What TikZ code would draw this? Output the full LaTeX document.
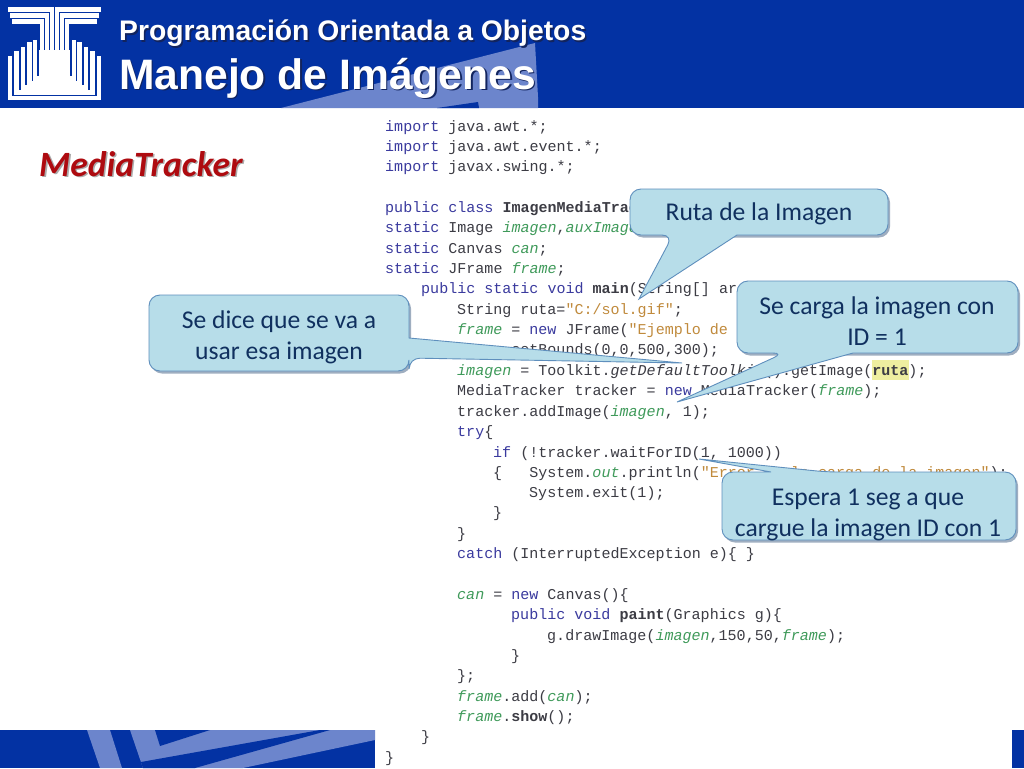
\documentclass[tikz,border=0pt]{standalone}
\usepackage{fontspec}
\setmainfont{Liberation Sans}
\setmonofont{Liberation Mono}
\newfontfamily\notefont{Carlito}
\usetikzlibrary{positioning}
\definecolor{headblue}{HTML}{0332A3}
\definecolor{stripeblue}{HTML}{6C85CC}
\definecolor{notefill}{HTML}{B7DDE9}
\definecolor{noteline}{HTML}{5F8FBD}
\definecolor{noteshade}{HTML}{7F93AC}
\definecolor{notetext}{HTML}{10305F}
\definecolor{kwblue}{HTML}{3A3A9E}
\definecolor{fieldgreen}{HTML}{3F9A5A}
\definecolor{strbrown}{HTML}{C08A3C}
\definecolor{codegray}{HTML}{3C3C44}
\definecolor{markyellow}{HTML}{EEEEA0}
\definecolor{titlered}{HTML}{AE0B10}
\definecolor{titleshade}{HTML}{12245E}
\definecolor{mediashade}{HTML}{ABABAB}
\newcommand{\kw}[1]{\textcolor{kwblue}{#1}}
\newcommand{\fd}[1]{\textcolor{fieldgreen}{\textit{#1}}}
\newcommand{\st}[1]{\textcolor{strbrown}{#1}}
\newcommand{\bb}[1]{\textbf{#1}}
\newcommand{\shaded}[2]{\rlap{\hspace{1.6pt}\raisebox{-1.6pt}{\textcolor{#1}{#2}}}#2}
\tikzset{
    code/.style={anchor=base west, inner sep=0pt, text=codegray,
        font=\ttfamily\fontsize{15.04}{15}\selectfont},
    note/.style={anchor=center, align=center, inner sep=0pt, text=notetext,
        font=\notefont\fontsize{25.6}{31}\selectfont},
    notebox/.style={fill=notefill, draw=noteline, line width=0.9pt},
    noteback/.style={fill=noteshade, opacity=0.75},
    band/.style={fill=headblue},
    stripe/.style={fill=stripeblue},
    logobar/.style={draw=white, line width=4.2pt, line cap=butt, line join=miter}
}
\begin{document}
\begin{tikzpicture}[x=1pt,y=-1pt]
    \useasboundingbox (0,0) rectangle (1024,768);
    \fill[white] (0,0) rectangle (1024,768);
    % header
    \fill[band] (0,0) rectangle (1024,108);
    \fill[stripe] (281,108) -- (535,43) -- (538,97) -- (538,108) -- cycle;
    \fill[band] (437,108) -- (478,102) -- (479,108) -- cycle;
    % logo
    \fill[white] (39,50) rectangle (70,78);
    \foreach \i/\yy/\xl/\xs in {0/9.5/8/52,1/15.5/10/47,2/21.5/12/42}{
        \draw[logobar] (\xl,\yy) -- (\xs,\yy) -- (\xs,52);
        \draw[logobar] (109-\xl,\yy) -- (109-\xs,\yy) -- (109-\xs,52);
    }
    \foreach \i/\xa/\ya/\yb in {0/10/56/98,1/16.5/51/92.5,2/23/47/87.5,3/29.5/42/83,4/35/40/78.5}{
        \draw[logobar] (\xa,\ya) -- (\xa,\yb) -- (109-\xa,\yb) -- (109-\xa,\ya);
    }
    % titles
    \node[anchor=base west, inner sep=0pt, text=white] (subtitle) at (119,40.5)
        {\fontsize{28.3}{29}\selectfont\bfseries\shaded{titleshade}{Programación Orientada a Objetos}};
    \node[anchor=base west, inner sep=0pt, text=white] (title) at (119,89)
        {\fontsize{42.6}{43}\selectfont\bfseries\shaded{titleshade}{Manejo de Imágenes}};
    \node[anchor=base west, inner sep=0pt, text=titlered] (media) at (39,176)
        {\notefont\fontsize{35.6}{36}\selectfont\bfseries\itshape\shaded{mediashade}{MediaTracker}};
    % bottom band
    \fill[band] (0,730) rectangle (375,768);
    \fill[stripe] (87,730) -- (110,730) -- (122,768) -- (100,768) -- cycle;
    \fill[stripe] (130,730) -- (375,730) -- (375,740) -- (243,768) -- (143,768) -- cycle;
    \fill[band] (155,730) -- (210,730) -- (160,746) -- cycle;
    \fill[band] (141,762) -- (320,730) -- (330,730) -- (195,768) -- (143,768) -- cycle;
    \fill[band] (1012,730) rectangle (1024,768);
    % code
    \fill[markyellow] (872,360) rectangle (909,380);
    \node[code] (l1) at (385,131) {\kw{import} java.awt.*;};
    \node[code] (l2) at (385,151) {\kw{import} java.awt.event.*;};
    \node[code] (l3) at (385,171) {\kw{import} javax.swing.*;};
    \node[code] (l4) at (385,212) {\kw{public class} \bb{ImagenMediaTracker}};
    \node[code] (l5) at (385,232) {\kw{static} Image \fd{imagen},\fd{auxImagen};};
    \node[code] (l6) at (385,253) {\kw{static} Canvas \fd{can};};
    \node[code] (l7) at (385,273) {\kw{static} JFrame \fd{frame};};
    \node[code] (l8) at (421,293) {\kw{public static void} \bb{main}(String[] args)\{};
    \node[code] (l9) at (457,314) {String ruta=\st{"C:/sol.gif"};};
    \node[code] (l10) at (457,334) {\fd{frame} = \kw{new} JFrame(\st{"Ejemplo de "});};
    \node[code] (l11) at (457,354) {\fd{frame}.setBounds(0,0,500,300);};
    \node[code] (l12) at (457,375) {\fd{imagen} = Toolkit.\textit{getDefaultToolkit}().getImage(\bb{ruta});};
    \node[code] (l13) at (457,395) {MediaTracker tracker = \kw{new} MediaTracker(\fd{frame});};
    \node[code] (l14) at (457,416) {tracker.addImage(\fd{imagen}, 1);};
    \node[code] (l15) at (457,436) {\kw{try}\{};
    \node[code] (l16) at (493,457) {\kw{if} (!tracker.waitForID(1, 1000))};
    \node[code] (l17) at (493,477) {\{~~~System.\fd{out}.println(\st{"Error en la carga de la imagen"});};
    \node[code] (l18) at (529,497) {System.exit(1);};
    \node[code] (l19) at (493,517) {\}};
    \node[code] (l20) at (457,538) {\}};
    \node[code] (l21) at (457,558) {\kw{catch} (InterruptedException e)\{ \}};
    \node[code] (l22) at (457,599) {\fd{can} = \kw{new} Canvas()\{};
    \node[code] (l23) at (511,619) {\kw{public void} \bb{paint}(Graphics g)\{};
    \node[code] (l24) at (547,640) {g.drawImage(\fd{imagen},150,50,\fd{frame});};
    \node[code] (l25) at (511,660) {\}};
    \node[code] (l26) at (457,680) {\};};
    \node[code] (l27) at (457,701) {\fd{frame}.add(\fd{can});};
    \node[code] (l28) at (457,721) {\fd{frame}.\bb{show}();};
    \node[code] (l29) at (421,741) {\}};
    \node[code] (l30) at (385,762) {\}};
    % notes
    \fill[noteback, xshift=2pt, yshift=-2.5pt, rounded corners=11pt] (630,189) -- (888,189) -- (888,235) -- (630,235) -- cycle;
    \draw[notebox] [rounded corners=11pt] (737,235) -- (888,235) -- (888,189) -- (630,189) -- (630,235) -- (673,235) [sharp corners] -- (639,299) -- cycle;
    \node[note] (ruta) at (759,214) {Ruta de la Imagen};
    \fill[noteback, xshift=2pt, yshift=-2.5pt, rounded corners=11pt] (737,281) -- (1018,281) -- (1018,353) -- (737,353) -- cycle;
    \draw[notebox] [rounded corners=11pt] (853,353) -- (1018,353) -- (1018,281) -- (737,281) -- (737,353) -- (784,353) [sharp corners] -- (677,402) -- cycle;
    \node[note] (carga) at (877,321) {Se carga la imagen con\\ID = 1};
    \fill[noteback, xshift=2pt, yshift=-2.5pt, rounded corners=11pt] (149,295) -- (409,295) -- (409,371) -- (149,371) -- cycle;
    \draw[notebox] [rounded corners=11pt] (409,338) -- (409,295) -- (149,295) -- (149,371) -- (409,371) -- (409,358) [sharp corners] -- (682,363) -- cycle;
    \node[note] (dice) at (279,337) {Se dice que se va a\\usar esa imagen};
    \fill[noteback, xshift=2pt, yshift=-2.5pt, rounded corners=11pt] (722,472) -- (1016,472) -- (1016,540) -- (722,540) -- cycle;
    \draw[notebox] [rounded corners=11pt] (771,472) -- (722,472) -- (722,540) -- (1016,540) -- (1016,472) -- (827,472) [sharp corners] -- (699,459) -- cycle;
    \node[note] (espera) at (868,515) {Espera 1 seg a que\\cargue la imagen ID con 1};
\end{tikzpicture}
\end{document}
